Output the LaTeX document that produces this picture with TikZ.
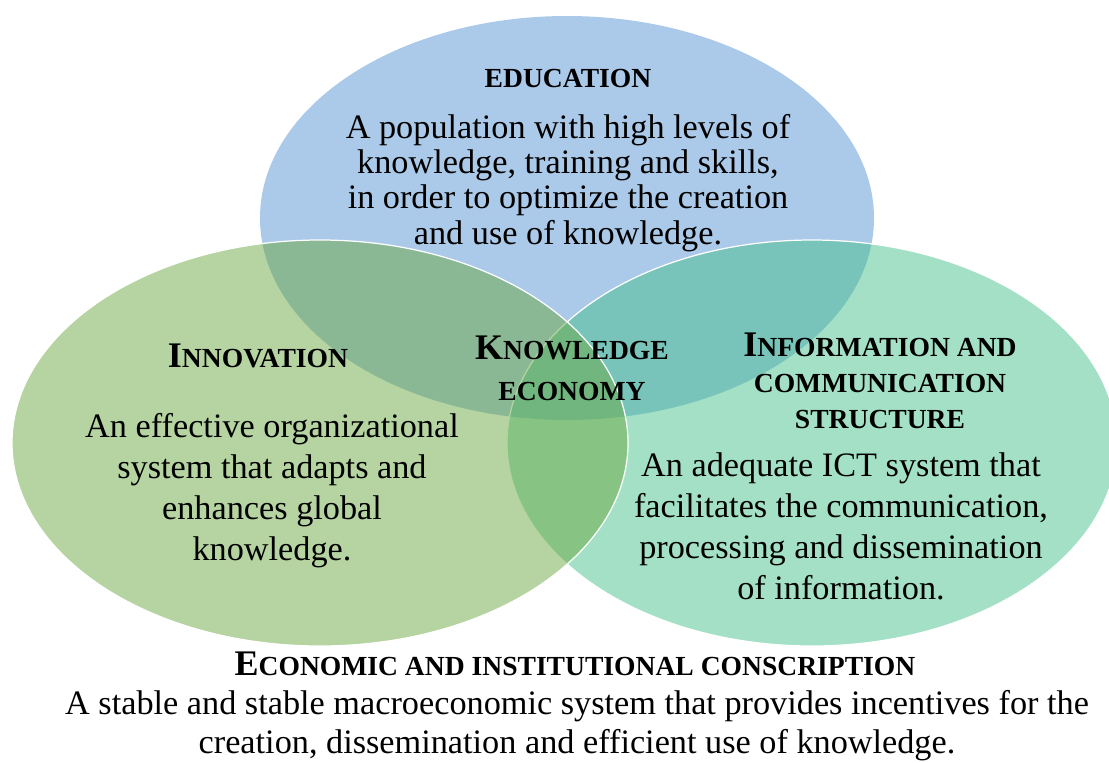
\documentclass[tikz,border=0pt]{standalone}
\usepackage{fontspec}
\setmainfont{Liberation Serif}
\usetikzlibrary{positioning}
\definecolor{edublue}{RGB}{87,147,209}
\definecolor{innogreen}{RGB}{107,169,67}
\definecolor{ictteal}{RGB}{71,193,141}
\newcommand{\hdcaps}[2]{{\fontsize{20.5}{22}\selectfont #1}{\fontsize{15.7}{22}\selectfont #2}}
\tikzset{
  venn/.style={
    fill opacity=0.5,
    draw=white,
    line width=0.7pt
  },
  heading/.style={
    align=center,
    inner sep=0pt,
    font=\bfseries
  },
  body/.style={
    align=center,
    inner sep=0pt,
    font=\fontsize{19.5}{#1}\selectfont
  },
}

\begin{document}
\begin{tikzpicture}[x=0.02cm,y=-0.02cm]
    \useasboundingbox (0,0) rectangle (1109,762);
    % the three circles
    \fill[fill=edublue,fill opacity=0.5] (567,218) ellipse [x radius=307, y radius=202];
    \filldraw[venn,fill=ictteal] (812,443) ellipse [x radius=305, y radius=203];
    \filldraw[venn,fill=innogreen] (320,443) ellipse [x radius=308, y radius=203];
    % education
    \node[heading] (edu) at (568,78) {\fontsize{15.7}{18}\selectfont EDUCATION};
    \node[body=20] (edutext) at (568,183)
      {A population with high levels of\\
       knowledge, training and skills,\\
       in order to optimize the creation\\
       and use of knowledge.};
    % innovation
    \node[heading] (inno) at (258,356) {\hdcaps{I}{NNOVATION}};
    \node[body=23.3] (innotext) at (272,491)
      {An effective organizational\\
       system that adapts and\\
       enhances global\\
       knowledge.};
    % centre
    \node[heading,font=\bfseries\fontsize{19}{23.3}\selectfont] (keco) at (572,368)
      {\hdcaps{K}{NOWLEDGE}\\ \hdcaps{}{ECONOMY}};
    % ict
    \node[heading,font=\bfseries\fontsize{19}{20.5}\selectfont] (ict) at (880,381)
      {\hdcaps{I}{NFORMATION AND}\\ \hdcaps{}{COMMUNICATION}\\ \hdcaps{}{STRUCTURE}};
    \node[body=23.3] (icttext) at (841,526)
      {An adequate ICT system that\\
       facilitates the communication,\\
       processing and dissemination\\
       of information.};
    % bottom
    \node[heading] (econ) at (575,664) {\hdcaps{E}{CONOMIC AND INSTITUTIONAL CONSCRIPTION}};
    \node[body=22.2] (econtext) at (577,726)
      {A stable and stable macroeconomic system that provides incentives for the\\
       creation, dissemination and efficient use of knowledge.};
\end{tikzpicture}
\end{document}
